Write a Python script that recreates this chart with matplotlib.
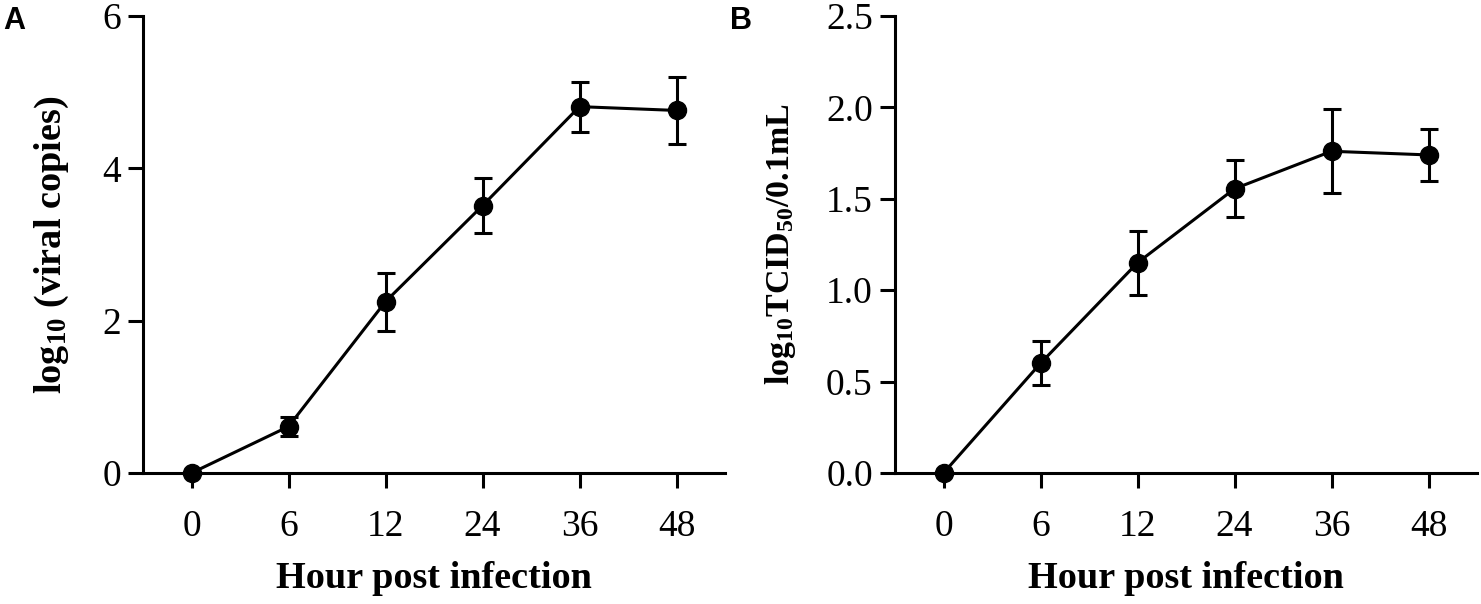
import matplotlib
matplotlib.use("Agg")
import matplotlib.pyplot as plt
import numpy as np

hours = ["0", "6", "12", "24", "36", "48"]

copies_mean = [0.0, 0.61, 2.25, 3.51, 4.81, 4.76]
copies_err = [0.0, 0.12, 0.38, 0.36, 0.33, 0.44]

tcid_mean = [0.0, 0.60, 1.15, 1.555, 1.76, 1.74]
tcid_err = [0.0, 0.12, 0.175, 0.156, 0.23, 0.143]

plt.rcParams["font.family"] = ["Liberation Serif", "DejaVu Serif"]
plt.rcParams["mathtext.fontset"] = "custom"
plt.rcParams["mathtext.rm"] = "Liberation Serif"
plt.rcParams["mathtext.bf"] = "Liberation Serif:bold"
plt.rcParams["mathtext.default"] = "bf"

fig = plt.figure(figsize=(14.81, 6.04), dpi=100)

W = 582 / 1481
H = 457 / 604
bottom = 1 - 473 / 604
axA = fig.add_axes([143 / 1481, bottom, W, H])
axB = fig.add_axes([895 / 1481, bottom, W, H])

lw = 2.2
tick_fs = 27
label_fs = 27.5


def style(ax, means, errs, ylim, yticks, yticklabels, ylabel, ylab_x, ylab_fs):
    x = np.arange(len(hours))
    ax.errorbar(x, means, yerr=errs, fmt="-o", color="black", lw=lw,
                markersize=13, capsize=6.5, capthick=lw, elinewidth=lw,
                clip_on=False, zorder=5)
    ax.set_xlim(-0.5, len(hours) - 0.5)
    ax.set_ylim(*ylim)
    ax.set_xticks(x)
    ax.set_xticklabels(hours)
    ax.set_yticks(yticks)
    ax.set_yticklabels(yticklabels)
    for s in ["top", "right"]:
        ax.spines[s].set_visible(False)
    for s in ["left", "bottom"]:
        ax.spines[s].set_linewidth(lw)
    ax.tick_params(axis="both", length=11, width=lw, labelsize=tick_fs,
                   color="black")
    ax.tick_params(axis="x", pad=15.5)
    ax.tick_params(axis="y", pad=5)
    ax.set_xlabel("Hour post infection", fontsize=label_fs, fontweight="bold",
                  labelpad=12)
    ax.set_ylabel(ylabel, fontsize=ylab_fs, fontweight="bold")
    ax.yaxis.set_label_coords(ylab_x, 0.5)


style(axA, copies_mean, copies_err, (0, 6), [0, 2, 4, 6],
      ["0", "2", "4", "6"], r"log$_{10}$ (viral copies)", -0.124, 27.5)
style(axB, tcid_mean, tcid_err, (0, 2.5), [0, 0.5, 1.0, 1.5, 2.0, 2.5],
      ["0.0", "0.5", "1.0", "1.5", "2.0", "2.5"],
      r"log$_{10}$TCID$_{50}$/0.1mL", -0.166, 24.5)

fig.text(3 / 1481, 1 - 6 / 604, "A", fontsize=22, fontweight="bold",
         family="Liberation Sans", va="top", ha="left")
fig.text(730 / 1481, 1 - 6 / 604, "B", fontsize=22, fontweight="bold",
         family="Liberation Sans", va="top", ha="left")

fig.savefig("out.png", dpi=100)
